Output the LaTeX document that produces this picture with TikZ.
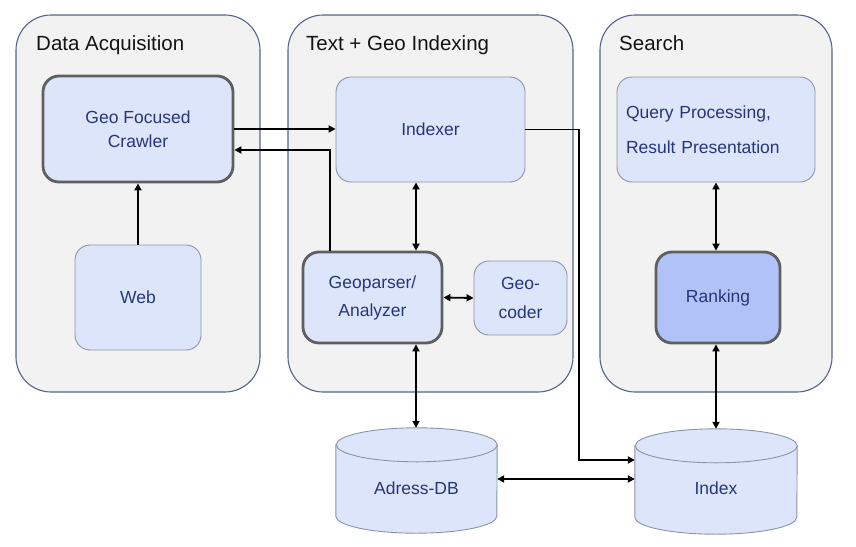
\documentclass[tikz,border=0pt]{standalone}
\usepackage{fontspec}
\setmainfont{Liberation Sans}
\usetikzlibrary{arrows.meta,calc}
\definecolor{grpfill}{HTML}{F2F2F2}
\definecolor{grpline}{HTML}{56638A}
\definecolor{boxfill}{HTML}{DCE5FA}
\definecolor{rankfill}{HTML}{B0C2F7}
\definecolor{thinline}{HTML}{8A94A8}
\definecolor{thickline}{HTML}{5F5F5F}
\definecolor{txt}{HTML}{27367A}
\begin{document}
\begin{tikzpicture}[x=1pt,y=-1pt,
  grp/.style={draw=grpline, line width=1.1pt, fill=grpfill, rounded corners=35pt, inner sep=0pt},
  grptitle/.style={anchor=base west, inner sep=0pt, text=black!92, font=\fontsize{20.5}{24}\selectfont},
  thinbox/.style={draw=thinline, line width=0.9pt, fill=boxfill, rounded corners=15pt, inner sep=0pt, text=txt, align=center},
  thickbox/.style={draw=thickline, line width=2.8pt, fill=boxfill, rounded corners=16pt, inner sep=0pt, text=txt, align=center},
  cylnode/.style={inner sep=0pt},
  cyl/.style={draw=thinline, line width=0.9pt, fill=boxfill},
  cyltext/.style={inner sep=0pt, text=txt, font=\fontsize{17.5}{21}\selectfont},
  arr/.style={-{Triangle[length=7pt,width=7pt]}, line width=1.8pt},
  darr/.style={{Triangle[length=7pt,width=7pt]}-{Triangle[length=7pt,width=7pt]}, line width=1.8pt}
]
\useasboundingbox (0,0) rectangle (856,546);

% groups
\node[grp, minimum width=244pt, minimum height=377pt] (g1) at (138,203.5) {};
\node[grp, minimum width=285pt, minimum height=377pt] (g2) at (430.5,203.5) {};
\node[grp, minimum width=232pt, minimum height=377pt] (g3) at (716,203.5) {};
\node[grptitle] (t1) at (36,50) {Data Acquisition};
\node[grptitle] (t2) at (306,50) {Text + Geo Indexing};
\node[grptitle] (t3) at (619,50) {Search};

% boxes
\node[thickbox, minimum width=190pt, minimum height=106pt, font=\fontsize{17.5}{24}\selectfont] (crawler) at (138,129) {Geo Focused\\Crawler};
\node[thinbox, minimum width=126pt, minimum height=105pt, font=\fontsize{17.5}{21}\selectfont] (web) at (138,297.5) {Web};
\node[thinbox, minimum width=189pt, minimum height=105pt, font=\fontsize{17.5}{21}\selectfont] (indexer) at (430.5,129.5) {Indexer};
\node[thickbox, minimum width=139pt, minimum height=91pt, font=\fontsize{17.5}{28}\selectfont] (gp) at (372.5,297.5) {Geoparser/\\Analyzer};
\node[thinbox, minimum width=93pt, minimum height=74pt, font=\fontsize{17.5}{29}\selectfont] (gc) at (520.5,298) {Geo-\\coder};
\node[thinbox, minimum width=198pt, minimum height=105pt, font=\fontsize{17.5}{35}\selectfont, align=left, text width=180pt] (query) at (716,129.5) {Query Processing,\\Result Presentation};
\node[thickbox, fill=rankfill, minimum width=124pt, minimum height=91pt, font=\fontsize{17.5}{21}\selectfont] (rank) at (718,297.5) {Ranking};

% cylinders
\node[cylnode, minimum width=161pt, minimum height=105pt] (adb) at (416.5,480.5) {};
\node[cylnode, minimum width=162pt, minimum height=105pt] (idx) at (716,481.5) {};
\draw[cyl] ($(adb.north west)+(0,17)$) -- ($(adb.south west)+(0,-17)$)
  arc[start angle=180, end angle=360, x radius=80.5pt, y radius=17pt]
  -- ($(adb.north east)+(0,17)$)
  arc[start angle=0, end angle=180, x radius=80.5pt, y radius=17pt] -- cycle;
\draw[cyl, fill=none] ($(adb.north east)+(0,17)$)
  arc[start angle=0, end angle=-180, x radius=80.5pt, y radius=17pt];
\draw[cyl] ($(idx.north west)+(0,17)$) -- ($(idx.south west)+(0,-17)$)
  arc[start angle=180, end angle=360, x radius=81pt, y radius=17pt]
  -- ($(idx.north east)+(0,17)$)
  arc[start angle=0, end angle=180, x radius=81pt, y radius=17pt] -- cycle;
\draw[cyl, fill=none] ($(idx.north east)+(0,17)$)
  arc[start angle=0, end angle=-180, x radius=81pt, y radius=17pt];
\node[cyltext] (adbt) at ([yshift=-7.5pt]adb.center) {Adress-DB};
\node[cyltext] (idxt) at ([yshift=-7pt]idx.center) {Index};

% helper coordinates
\coordinate (cret) at (330,150);
\coordinate (cx) at (416,0);
\coordinate (cidx) at (579,460);

% connectors
\draw[arr] (web) -- (crawler);
\draw[arr] (crawler.east) -- (crawler.east -| indexer.west);
\draw[arr] (gp.north -| cret) |- (crawler.east |- cret);
\draw[darr] (indexer.south -| cx) -- (gp.north -| cx);
\draw[darr] (gp.east) -- (gc.west);
\draw[darr] (gp.south -| cx) -- (adb.north -| cx);
\draw[arr] (indexer.east) -| (cidx) -- (idx.west |- cidx);
\draw[darr] (adb.east |- 0,479) -- (idx.west |- 0,479);
\draw[darr] (query.south -| idx.north) -- (rank.north -| idx.north);
\draw[darr] (rank.south -| idx.north) -- (idx.north);
\end{tikzpicture}
\end{document}
